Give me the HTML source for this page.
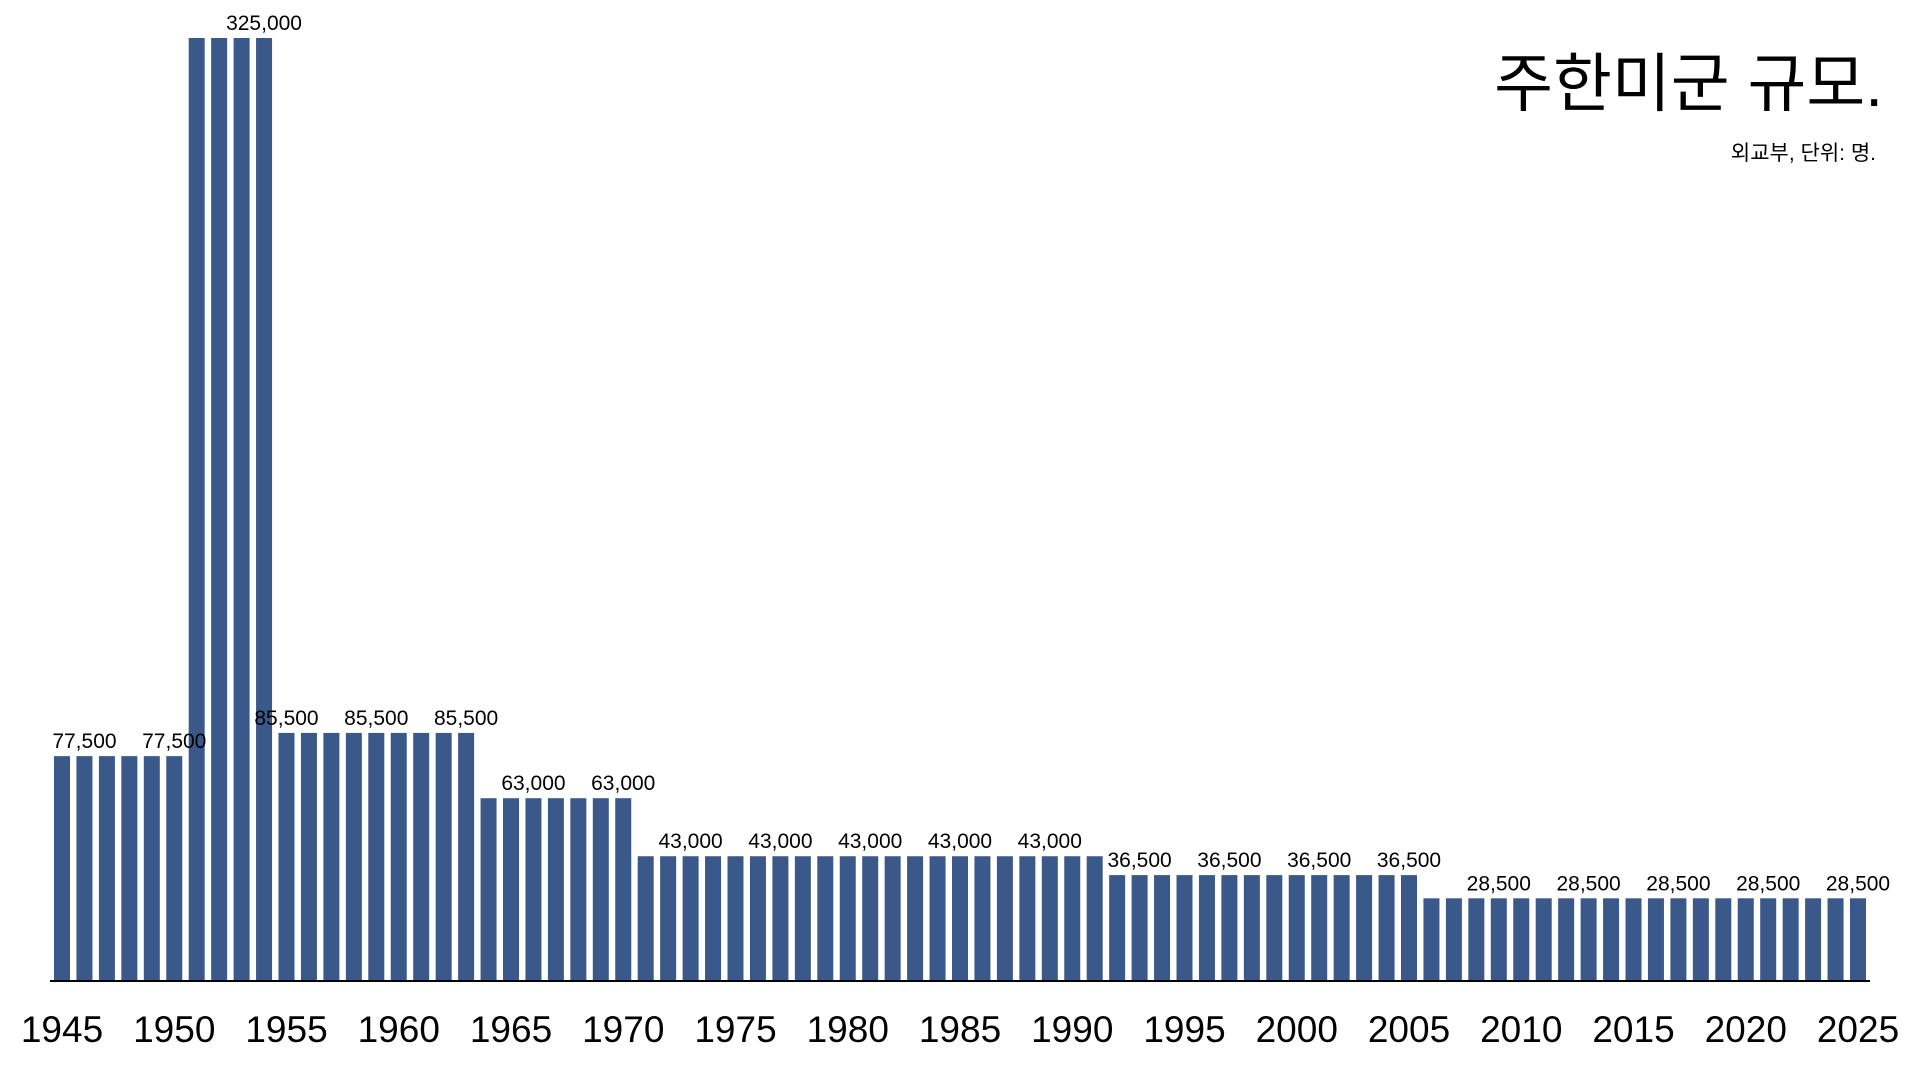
<!DOCTYPE html>
<html><head><meta charset="utf-8"><style>
html,body{margin:0;padding:0;background:#fff;}
svg{display:block;font-family:"Liberation Sans","Noto Sans CJK KR",sans-serif;}
</style></head><body>
<svg id="chart" width="1920" height="1080" viewBox="0 0 1920 1080">
<text x="1883" y="106" text-anchor="end" font-size="64" fill="#000">주한미군 규모.</text>
<text x="1876" y="160" text-anchor="end" font-size="21" fill="#000">외교부, 단위: 명.</text>
<g id="bars"></g>
<g id="vlabels"></g>
<g id="xticks"></g>
<line x1="50" y1="981" x2="1870" y2="981" stroke="#000" stroke-width="2"/>
</svg>
<script>
const segYears = [1945, 1951, 1955, 1964, 1971, 1992, 2006];
const segValues = [77500, 325000, 85500, 63000, 43000, 36500, 28500];
const labelYears = [1946,1950,1954,1955,1959,1963,1966,1970,1973,1977,1981,1985,1989,1993,1997,2001,2005,2009,2013,2017,2021,2025];
const tickLabels = ["1945","1950","1955","1960","1965","1970","1975","1980","1985","1990","1995","2000","2005","2010","2015","2020","2025"];
const years = [];
const values = [];
for (let y = 1945; y <= 2025; y++) {
  let v = segValues[0];
  for (let k = 0; k < segYears.length; k++) if (y >= segYears[k]) v = segValues[k];
  years.push(y); values.push(v);
}
const NS = "http://www.w3.org/2000/svg";
const x0 = 54, pitch = 22.45, bw = 16, base = 981, yTop = 38, vmax = 325000;
function xScale(year){ return x0 + (year - 1945) * pitch; }
function yScale(v){ return base - v / vmax * (base - yTop); }
const gb = document.getElementById('bars');
years.forEach((yr, i) => {
  const r = document.createElementNS(NS, 'rect');
  r.setAttribute('x', xScale(yr));
  r.setAttribute('y', yScale(values[i]));
  r.setAttribute('width', bw);
  r.setAttribute('height', base - yScale(values[i]));
  r.setAttribute('fill', '#3a5889');
  
  
  gb.appendChild(r);
});
const gl = document.getElementById('vlabels');
labelYears.forEach(yr => {
  const v = values[years.indexOf(yr)];
  const t = document.createElementNS(NS, 'text');
  t.setAttribute('x', xScale(yr) + bw / 2);
  t.setAttribute('y', yScale(v) - 8);
  t.setAttribute('text-anchor', 'middle');
  t.setAttribute('font-size', '21');
  t.textContent = v.toLocaleString('en-US');
  
  
  gl.appendChild(t);
});
const gt = document.getElementById('xticks');
tickLabels.forEach(lbl => {
  const t = document.createElementNS(NS, 'text');
  t.setAttribute('x', xScale(+lbl) + bw / 2);
  t.setAttribute('y', 1042);
  t.setAttribute('text-anchor', 'middle');
  t.setAttribute('font-size', '37');
  t.textContent = lbl;
  
  
  gt.appendChild(t);
});
</script>
</body></html>
